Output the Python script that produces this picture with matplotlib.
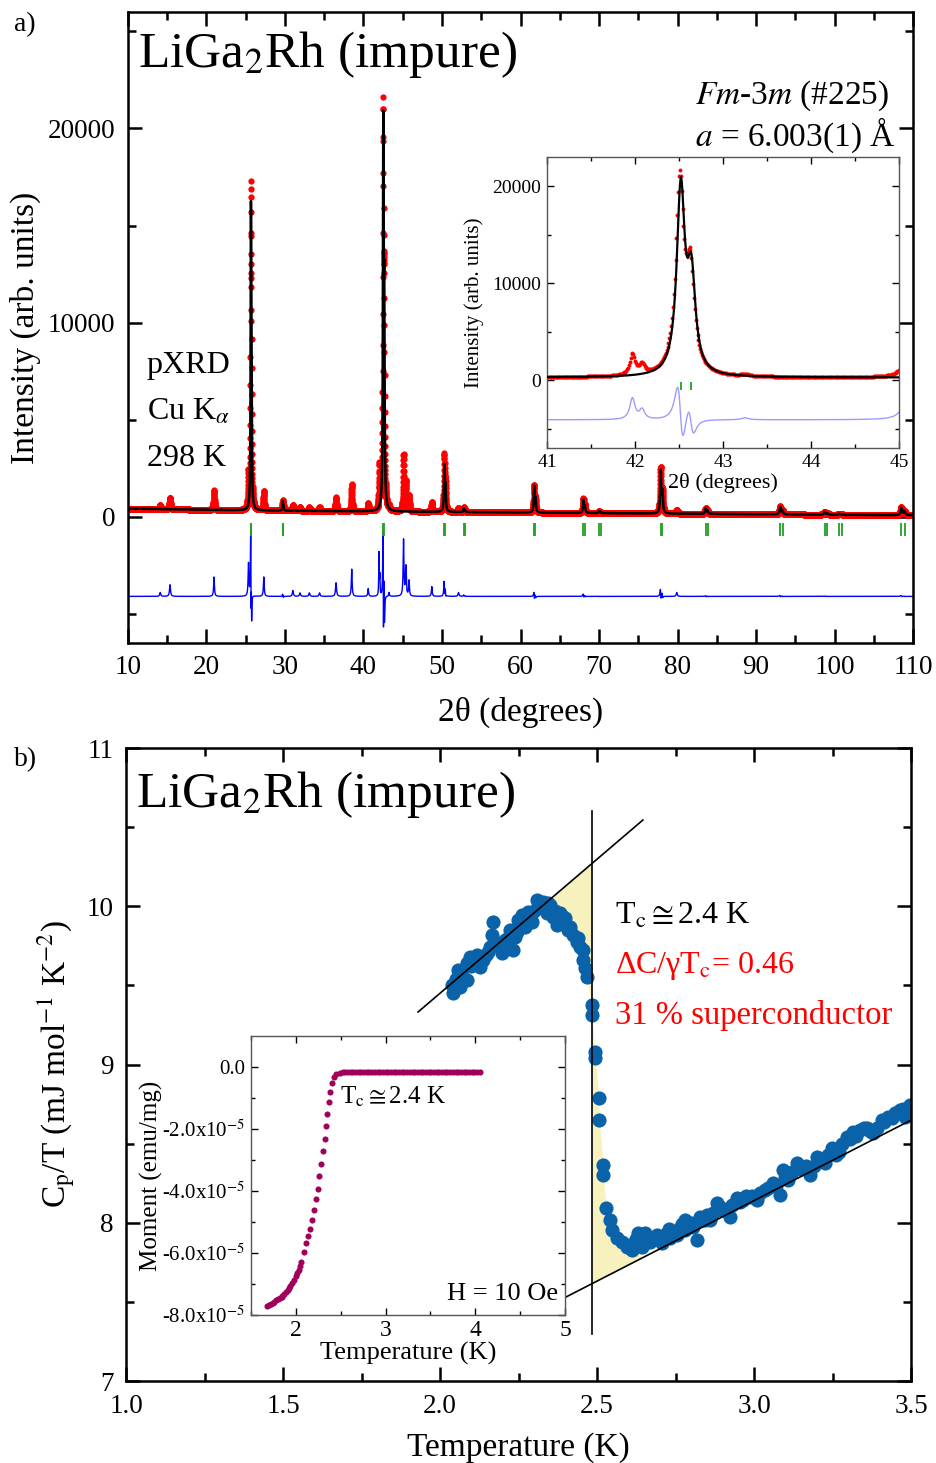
import matplotlib
matplotlib.use('Agg')
import matplotlib.pyplot as plt
import numpy as np
from matplotlib.ticker import MultipleLocator, FixedLocator, FixedFormatter, FormatStrFormatter

plt.rcParams['font.family'] = ['Liberation Serif', 'DejaVu Serif']
plt.rcParams['mathtext.fontset'] = 'stix'

red = '#ff0000'
green = '#22a022'
blue = '#0000ff'
light_blue = '#9c9cff'
cp_blue = '#0a62a8'
wine = '#a0005a'
yellow = '#f6f1bd'

# ---- pXRD: reflections of LiGa2Rh (Ka1 / Ka2 tick positions)
tick_ka1 = [25.66, 29.72, 42.52, 50.30, 52.78, 61.74, 68.02, 70.02, 77.86, 83.60, 93.08, 98.76, 100.58, 108.52]
tick_ka2 = [25.73, 29.80, 42.64, 50.44, 52.92, 61.90, 68.20, 70.21, 78.08, 83.84, 93.38, 99.08, 100.92, 108.92]
calc_amp = [13900, 450, 19000, 2300, 180, 1300, 650, 100, 2150, 280, 380, 140, 50, 380]
obs_amp = [14700, 480, 19600, 2800, 230, 1350, 700, 100, 2300, 290, 400, 150, 50, 400]
peak_fwhm = [0.09, 0.09, 0.11, 0.12, 0.12, 0.13, 0.14, 0.14, 0.15, 0.16, 0.18, 0.19, 0.20, 0.22]

# impurity peaks (observed only)
imp_pos = [14.1, 15.35, 20.96, 25.35, 27.3, 31.0, 31.9, 33.1, 34.4, 36.5, 38.5, 40.6,
           41.97, 42.08, 43.25, 45.1, 45.4, 45.8, 48.7, 52.1, 79.9]
imp_amp = [200, 600, 1000, 1700, 1000, 300, 180, 180, 180, 700, 1400, 400,
           2200, 1000, 200, 2900, 1500, 800, 500, 200, 200]
imp_fwhm = [0.15, 0.15, 0.12, 0.12, 0.12, 0.15, 0.15, 0.15, 0.15, 0.15, 0.12, 0.12,
            0.07, 0.07, 0.10, 0.12, 0.12, 0.12, 0.12, 0.15, 0.15]

bg_pos = [10, 25, 40, 60, 80, 110]
bg_val = [420, 330, 280, 220, 160, 80]
diff_offset = -4100

# ---- Cp/T data
cp_T = [2.037, 2.042, 2.058, 2.064, 2.085, 2.085, 2.096, 2.117, 2.127, 2.138, 2.154, 2.165, 2.170,
        2.181, 2.196, 2.207, 2.223, 2.233, 2.239, 2.249, 2.260, 2.271, 2.281, 2.292, 2.308, 2.318,
        2.329, 2.340, 2.350, 2.361, 2.372, 2.382, 2.398, 2.409, 2.425, 2.435, 2.446, 2.456, 2.456,
        2.462, 2.467, 2.483, 2.483, 2.494, 2.494, 2.507, 2.507, 2.520, 2.520, 2.529, 2.541, 2.547,
        2.563, 2.579, 2.594, 2.610, 2.632, 2.637, 2.642, 2.653, 2.669, 2.690, 2.706, 2.711, 2.732,
        2.743, 2.754, 2.780, 2.780, 2.807, 2.817, 2.828, 2.844, 2.860, 2.881, 2.897, 2.924, 2.945,
        2.966, 2.987, 3.009, 3.035, 3.061, 3.083, 3.093, 3.109, 3.136, 3.157, 3.178, 3.200, 3.226,
        3.247, 3.269, 3.295, 3.316, 3.338, 3.359, 3.380, 3.407, 3.428, 3.449, 3.465, 3.481, 3.497,
        2.050, 2.070, 2.100, 2.110, 2.145, 2.160, 2.190, 2.215, 2.245, 2.255, 2.285, 2.300, 2.335,
        2.345, 2.366, 2.390, 2.415, 2.440,
        2.600, 2.620, 2.625, 2.660, 2.680, 2.700, 2.720, 2.730, 2.760, 2.770, 2.790, 2.800, 2.835,
        2.850, 2.870, 2.890, 2.910, 2.930, 2.955, 2.975, 2.995, 3.020, 3.045, 3.070, 3.100, 3.120,
        3.145, 3.165, 3.190, 3.210, 3.235, 3.260, 3.280, 3.305, 3.325, 3.350, 3.370, 3.390, 3.415,
        3.440, 3.457, 3.473, 3.490]
cp_C = [9.502, 9.450, 9.597, 9.492, 9.534, 9.640, 9.681, 9.692, 9.618, 9.660, 9.713, 9.818, 9.902,
        9.766, 9.703, 9.787, 9.850, 9.724, 9.808, 9.913, 9.945, 9.871, 9.966, 9.902, 10.039, 9.997,
        10.029, 9.955, 10.008, 9.934, 9.882, 9.955, 9.924, 9.850, 9.818, 9.776, 9.745, 9.724, 9.660,
        9.608, 9.555, 9.376, 9.313, 9.081, 9.039, 8.786, 8.649, 8.365, 8.302, 8.091, 8.017, 7.954,
        7.902, 7.880, 7.849, 7.828, 7.933, 7.870, 7.849, 7.933, 7.880, 7.923, 7.870, 7.912, 7.902,
        7.923, 7.923, 8.017, 7.954, 7.975, 7.891, 8.039, 8.017, 8.017, 8.123, 8.081, 8.039, 8.155,
        8.144, 8.165, 8.144, 8.207, 8.249, 8.175, 8.333, 8.270, 8.376, 8.354, 8.302, 8.418, 8.376,
        8.471, 8.449, 8.544, 8.575, 8.587, 8.597, 8.565, 8.649, 8.670, 8.691, 8.712, 8.670, 8.744,
        9.54, 9.56, 9.62, 9.66, 9.69, 9.74, 9.74, 9.80, 9.84, 9.87, 9.93, 9.97, 9.98,
        10.02, 9.97, 9.94, 9.87, 9.80,
        7.86, 7.85, 7.90, 7.88, 7.90, 7.90, 7.93, 7.96, 7.96, 7.99, 7.98, 8.00, 8.02,
        8.05, 8.06, 8.10, 8.08, 8.11, 8.13, 8.17, 8.17, 8.19, 8.22, 8.23, 8.28, 8.32,
        8.34, 8.36, 8.36, 8.40, 8.43, 8.43, 8.50, 8.53, 8.55, 8.60, 8.58, 8.60, 8.64,
        8.66, 8.70, 8.72, 8.70]

fit_hi_T = [1.93, 2.646]
fit_hi_C = [9.332, 10.545]
fit_lo_T = [2.40, 3.50]
fit_lo_C = [7.530, 8.649]
Tc = 2.484

# ---- magnetisation (units of 1e-5 emu/mg)
m_T = [1.681, 1.700, 1.720, 1.740, 1.760, 1.780, 1.800, 1.820, 1.840, 1.850, 1.870, 1.890, 1.910,
       1.925, 1.940, 1.960, 1.981, 2.000, 2.015, 2.030, 2.045, 2.060, 2.086, 2.112, 2.135, 2.157,
       2.180, 2.202, 2.224, 2.247, 2.262, 2.284, 2.307, 2.322, 2.337, 2.352, 2.367, 2.382, 2.400,
       2.423, 2.449, 2.487, 2.52, 2.55, 2.58, 2.61, 2.64, 2.67, 2.70, 2.73, 2.76, 2.79, 2.82, 2.85,
       2.88, 2.91, 2.94, 2.97, 3.00, 3.03, 3.06, 3.09, 3.12, 3.15, 3.18, 3.21, 3.24, 3.27, 3.30,
       3.33, 3.36, 3.39, 3.42, 3.45, 3.48, 3.51, 3.54, 3.57, 3.60, 3.63, 3.66, 3.69, 3.72, 3.75,
       3.78, 3.81, 3.84, 3.87, 3.90, 3.93, 3.96, 3.99, 4.02, 4.05]
m_M = [-7.70, -7.69, -7.66, -7.62, -7.57, -7.53, -7.49, -7.45, -7.42, -7.40, -7.33, -7.26, -7.19,
       -7.13, -7.06, -6.97, -6.86, -6.75, -6.65, -6.54, -6.41, -6.28, -5.97, -5.68, -5.44, -5.22,
       -4.93, -4.60, -4.26, -3.94, -3.53, -3.14, -2.72, -2.32, -1.92, -1.53, -1.14, -0.80, -0.52,
       -0.33, -0.23, -0.18, -0.17, -0.17, -0.17, -0.17, -0.17, -0.17, -0.17, -0.17, -0.17, -0.17,
       -0.17, -0.17, -0.17, -0.17, -0.17, -0.17, -0.17, -0.17, -0.17, -0.17, -0.17, -0.17, -0.17,
       -0.17, -0.17, -0.17, -0.17, -0.17, -0.17, -0.17, -0.17, -0.17, -0.17, -0.17, -0.17, -0.17,
       -0.17, -0.17, -0.17, -0.17, -0.17, -0.17, -0.17, -0.17, -0.17, -0.17, -0.17, -0.17, -0.17,
       -0.17, -0.17, -0.17]


def lorentz(x, pos, amp, w):
    return amp / (1 + ((x - pos) / (w / 2)) ** 2)


def pattern(x, amps, shift=0.0):
    y = np.interp(x, bg_pos, bg_val)
    for p1, p2, a, w in zip(tick_ka1, tick_ka2, amps, peak_fwhm):
        y = y + lorentz(x, p1 + shift, a, w) + lorentz(x, p2 + shift, 0.5 * a, w)
    return y


def style_axes(ax, major_len=9, minor_len=5, width=1.5, labelsize=19.5, pad=9):
    ax.tick_params(which='both', direction='in', top=True, right=True, width=width)
    ax.tick_params(which='major', length=major_len, labelsize=labelsize, pad=pad)
    ax.tick_params(which='minor', length=minor_len)
    for s in ax.spines.values():
        s.set_linewidth(width)


two_theta = np.arange(10, 110.001, 0.01)
calc = pattern(two_theta, calc_amp)
obs = pattern(two_theta, obs_amp, shift=-0.012)
for p, a, w in zip(imp_pos, imp_amp, imp_fwhm):
    obs = obs + lorentz(two_theta, p, a, w)
diff = obs - calc + diff_offset
all_ticks = tick_ka1 + tick_ka2

fig = plt.figure(figsize=(9.37, 14.63), dpi=100)

# ================= a) pXRD =================
ax1 = fig.add_axes([0.1366, 0.5605, 0.8378, 0.4313])
ax1.plot(two_theta, obs, 'o', ms=4.5, mew=0, color=red, zorder=2)
ax1.plot(two_theta, calc, '-', color='black', lw=1.8, zorder=3)
ax1.plot(two_theta, diff, '-', color=blue, lw=1.0, zorder=2)
ax1.vlines(all_ticks, -1000, -300, color=green, lw=1.3)
ax1.set_xlim(10, 110)
ax1.set_ylim(-6500, 26000)
ax1.xaxis.set_major_locator(MultipleLocator(10))
ax1.xaxis.set_minor_locator(MultipleLocator(5))
ax1.yaxis.set_major_locator(FixedLocator([0, 10000, 20000]))
ax1.yaxis.set_minor_locator(FixedLocator([-5000, 5000, 15000, 25000]))
style_axes(ax1, major_len=10, minor_len=6, width=1.8)
ax1.set_xlabel('2θ (degrees)', fontsize=24)
ax1.set_ylabel('Intensity (arb. units)', fontsize=24)
ax1.xaxis.set_label_coords(0.5, -0.085)
ax1.yaxis.set_label_coords(-0.111, 0.5)
ax1.text(0.013, 0.932, 'LiGa$_2$Rh (impure)', transform=ax1.transAxes, fontsize=37, va='center')
ax1.text(0.722, 0.868, '$Fm$-3$m$ (#225)', transform=ax1.transAxes, fontsize=24, va='center')
ax1.text(0.722, 0.805, '$a$ = 6.003(1) Å', transform=ax1.transAxes, fontsize=24, va='center')
ax1.text(0.024, 0.439, 'pXRD', transform=ax1.transAxes, fontsize=23, va='center')
ax1.text(0.024, 0.366, 'Cu K$_\\alpha$', transform=ax1.transAxes, fontsize=23, va='center')
ax1.text(0.024, 0.293, '298 K', transform=ax1.transAxes, fontsize=23, va='center')

# inset: zoom on the 220 reflection
ins1 = fig.add_axes([0.5838, 0.6938, 0.3757, 0.1989])
sel = (two_theta >= 41) & (two_theta <= 45)
ins1.plot(two_theta[sel], obs[sel], 'o', ms=2.8, mew=0, color=red, zorder=2)
ins1.plot(two_theta[sel], calc[sel], '-', color='black', lw=1.6, zorder=3)
ins1.plot(two_theta[sel], diff[sel], '-', color=light_blue, lw=1.0)
ins1.vlines(all_ticks, -1050, -150, color=green, lw=1.3)
ins1.set_xlim(41, 45)
ins1.set_ylim(-7000, 23000)
ins1.xaxis.set_major_locator(MultipleLocator(1))
ins1.xaxis.set_minor_locator(MultipleLocator(0.5))
ins1.yaxis.set_major_locator(FixedLocator([0, 10000, 20000]))
ins1.yaxis.set_minor_locator(FixedLocator([-5000, 5000, 15000]))
style_axes(ins1, major_len=5, minor_len=3, width=1.0, labelsize=14, pad=4)
for s in ins1.spines.values():
    s.set_color('#555555')
ins1.set_xlabel('2θ (degrees)', fontsize=16)
ins1.set_ylabel('Intensity (arb. units)', fontsize=15)
ins1.xaxis.set_label_coords(0.5, -0.086)
ins1.yaxis.set_label_coords(-0.179, 0.5)

# ================= b) specific heat =================
ax2 = fig.add_axes([0.1345, 0.056, 0.8378, 0.4327])
cp_T_arr = np.array(cp_T)
cp_C_arr = np.array(cp_C)
order = np.argsort(cp_T_arr, kind='stable')
hi_slope = (fit_hi_C[1] - fit_hi_C[0]) / (fit_hi_T[1] - fit_hi_T[0])
lo_slope = (fit_lo_C[1] - fit_lo_C[0]) / (fit_lo_T[1] - fit_lo_T[0])
# entropy-balance areas
t_up = np.linspace(2.30, Tc, 60)
line_up = fit_hi_C[0] + hi_slope * (t_up - fit_hi_T[0])
dat_up = np.interp(t_up, cp_T_arr[order], cp_C_arr[order])
ax2.fill_between(t_up, dat_up, line_up, where=line_up > dat_up, color=yellow, lw=0, zorder=1)
t_dn = np.linspace(Tc, 2.64, 60)
line_dn = fit_lo_C[0] + lo_slope * (t_dn - fit_lo_T[0])
dat_dn = np.interp(t_dn, cp_T_arr[order], cp_C_arr[order])
ax2.fill_between(t_dn, line_dn, dat_dn, where=dat_dn > line_dn, color=yellow, lw=0, zorder=1)

ax2.plot(cp_T, cp_C, 'o', ms=10.2, mew=0, color=cp_blue, zorder=2)
ax2.plot(fit_hi_T, fit_hi_C, '-', color='black', lw=1.2, zorder=3)
ax2.plot(fit_lo_T, fit_lo_C, '-', color='black', lw=1.2, zorder=3)
ax2.plot([Tc, Tc], [7.30, 10.60], '-', color='black', lw=1.2, zorder=3)
ax2.set_xlim(1.0, 3.5)
ax2.set_ylim(7, 11)
ax2.xaxis.set_major_locator(MultipleLocator(0.5))
ax2.xaxis.set_minor_locator(MultipleLocator(0.25))
ax2.xaxis.set_major_formatter(FormatStrFormatter('%.1f'))
ax2.yaxis.set_major_locator(MultipleLocator(1))
ax2.yaxis.set_minor_locator(MultipleLocator(0.5))
style_axes(ax2, major_len=10, minor_len=6, width=1.8)
ax2.set_xlabel('Temperature (K)', fontsize=24)
ax2.set_ylabel('C$_\\mathrm{p}$/T (mJ mol$^{\\mathrm{-1}}$ K$^{\\mathrm{-2}}$)', fontsize=24)
ax2.xaxis.set_label_coords(0.5, -0.080)
ax2.yaxis.set_label_coords(-0.062, 0.5)
ax2.text(0.013, 0.926, 'LiGa$_2$Rh (impure)', transform=ax2.transAxes, fontsize=37, va='center')
ax2.text(2.557, 9.94, 'T$_\\mathrm{c}\\cong$2.4 K', fontsize=23, va='center', color='black')
ax2.text(2.557, 9.62, 'ΔC/γT$_\\mathrm{c}$= 0.46', fontsize=23, va='center', color=red)
ax2.text(2.557, 9.31, '31 % superconductor', fontsize=23.5, va='center', color=red)

# inset: magnetisation
ins2 = fig.add_axes([0.2679, 0.1012, 0.3351, 0.1907])
ins2.plot(m_T, m_M, 'o', ms=4.4, mew=0, color=wine)
ins2.set_xlim(1.5, 5)
ins2.set_ylim(-8, 1)
ins2.xaxis.set_major_locator(MultipleLocator(1))
ins2.xaxis.set_minor_locator(MultipleLocator(0.5))
ins2.yaxis.set_major_locator(FixedLocator([0, -2, -4, -6, -8]))
ins2.yaxis.set_major_formatter(FixedFormatter(['0.0', '-2.0x10$^{-5}$', '-4.0x10$^{-5}$',
                                               '-6.0x10$^{-5}$', '-8.0x10$^{-5}$']))
ins2.yaxis.set_minor_locator(FixedLocator([-7, -5, -3, -1]))
style_axes(ins2, major_len=5, minor_len=3, width=1.0, labelsize=15, pad=4)
ins2.tick_params(axis='x', labelsize=17)
for s in ins2.spines.values():
    s.set_color('#555555')
ins2.set_xlabel('Temperature (K)', fontsize=19)
ins2.set_ylabel('Moment (emu/mg)', fontsize=18)
ins2.xaxis.set_label_coords(0.5, -0.096)
ins2.yaxis.set_label_coords(-0.281, 0.5)
ins2.text(2.49, -0.96, 'T$_\\mathrm{c}\\cong$2.4 K', fontsize=18, va='center')
ins2.text(4.925, -7.31, 'H = 10 Oe', fontsize=19, va='center', ha='right')

fig.text(14 / 937, 1 - 25 / 1463, 'a)', fontsize=20, va='center')
fig.text(14 / 937, 1 - 760 / 1463, 'b)', fontsize=20, va='center')

fig.savefig('out.png', dpi=100)
